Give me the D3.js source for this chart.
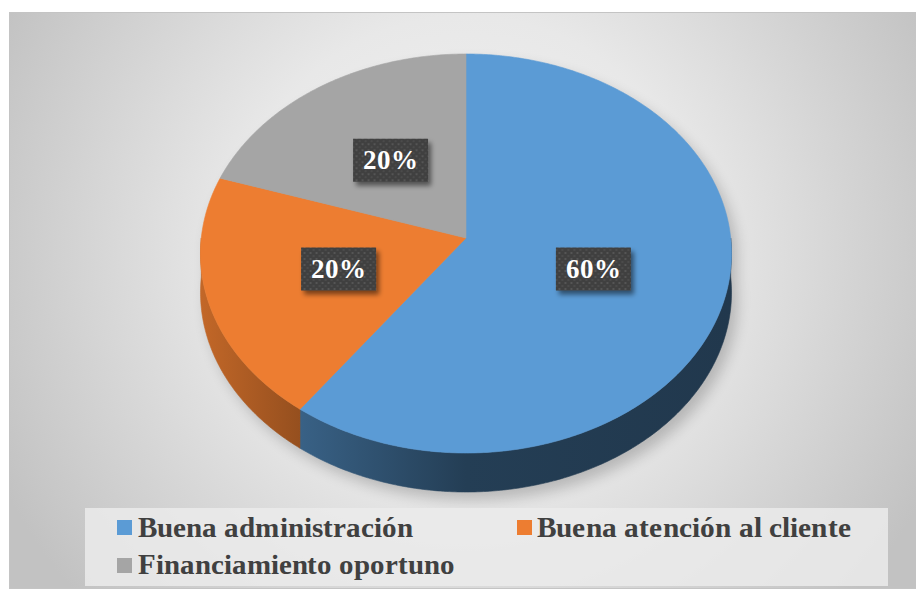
<!DOCTYPE html>
<html><head><meta charset="utf-8">
<script src="https://cdn.jsdelivr.net/npm/d3@7"></script>
<style>
@font-face { font-family: "ChartSerif"; font-weight: bold; src: local("Liberation Serif Bold"), local("LiberationSerif-Bold"), local("Times New Roman Bold"); }
@font-face { font-family: "ChartSerif"; font-weight: normal; src: local("Liberation Serif"), local("LiberationSerif"); }
</style>
</head><body style="margin:0">
<svg id="chart" width="916" height="589"></svg>
<script>
// ---- data ----
const categories = ["Buena administración", "Buena atención al cliente", "Financiamiento oportuno"];
const values = [60, 20, 20];
const labels = ["60%", "20%", "20%"];
const colors = ["#5b9bd5", "#ed7d31", "#a5a5a5"];

const W = 916, H = 589;
const FONT = 'ChartSerif, "Liberation Serif", "Times New Roman", serif';
const svg = d3.select("#chart");
const defs = svg.append("defs");

// background gradient
const bg = defs.append("radialGradient").attr("id","bg")
  .attr("gradientUnits","userSpaceOnUse").attr("cx",466).attr("cy",250).attr("r",520);
bg.append("stop").attr("offset","0").attr("stop-color","#f4f4f4");
bg.append("stop").attr("offset","0.45").attr("stop-color","#e8e8e8");
bg.append("stop").attr("offset","1").attr("stop-color","#c2c2c2");

svg.append("rect").attr("x",9.5).attr("y",12.5).attr("width",W).attr("height",576)
  .attr("fill","url(#bg)").attr("stroke","#c4c4c4").attr("stroke-width",1);

// geometry: perspective-projected circle
const cx = 466, cy = 238, kx = 264.7, ky = 198.3, persp = 0.0777, depth = 39;
const sx = d3.scaleLinear().domain([-1,1]).range([cx-kx, cx+kx]);
const sy = d3.scaleLinear().domain([-1,1]).range([cy-ky, cy+ky]);
function proj(a, r=1, dy=0) {
  const X = r*Math.sin(a), w = -r*Math.cos(a);
  const d = 1 - persp*w;
  return [sx(X/d), sy(w/d) + dy];
}
function arcPts(a0, a1, dy=0) {
  const n = Math.max(2, Math.ceil(Math.abs(a1-a0)/0.01));
  return d3.range(n+1).map(i => proj(a0 + (a1-a0)*i/n, 1, dy));
}

const pie = d3.pie().sort(null).value(d => d)(values);

// filters
const blur = defs.append("filter").attr("id","pshadow").attr("x","-20%").attr("y","-20%").attr("width","140%").attr("height","140%");
blur.append("feGaussianBlur").attr("stdDeviation",7);
const lsh = defs.append("filter").attr("id","lshadow").attr("x","-30%").attr("y","-30%").attr("width","160%").attr("height","160%");
lsh.append("feGaussianBlur").attr("in","SourceAlpha").attr("stdDeviation",2.5).attr("result","b");
lsh.append("feOffset").attr("dx",3).attr("dy",4).attr("result","o");
lsh.append("feComponentTransfer").attr("in","o").attr("result","s")
  .append("feFuncA").attr("type","linear").attr("slope",0.5);
const lm = lsh.append("feMerge");
lm.append("feMergeNode").attr("in","s");
lm.append("feMergeNode").attr("in","SourceGraphic");

// pie shadow
const shadowPts = arcPts(Math.PI/2, 3*Math.PI/2, depth).concat(arcPts(-Math.PI/2, Math.PI/2, 0));
svg.append("path").attr("d", d3.line()(shadowPts)+"Z")
  .attr("transform","translate(6,8)")
  .attr("fill","#000").attr("opacity",0.2).attr("filter","url(#pshadow)");

// side gradients
const shade = [[cx-kx,0.82],[305,0.62],[cx,0.40],[cx+kx,0.36]];
pie.forEach((p,i) => {
  const g = defs.append("linearGradient").attr("id","side"+i)
    .attr("gradientUnits","userSpaceOnUse").attr("x1",cx-kx).attr("x2",cx+kx).attr("y1",0).attr("y2",0);
  const c = d3.rgb(colors[i]);
  shade.forEach(([x,f]) => {
    g.append("stop").attr("offset",(x-(cx-kx))/(2*kx))
      .attr("stop-color", d3.rgb(c.r*f, c.g*f, c.b*f).formatHex());
  });
});

// side walls (front half)
pie.forEach((p,i) => {
  const a0 = Math.max(p.startAngle, Math.PI/2), a1 = Math.min(p.endAngle, 3*Math.PI/2);
  if (a1 <= a0) return;
  const top = arcPts(a0, a1, 0), bot = arcPts(a1, a0, depth);
  svg.append("path").attr("d", d3.line()(top.concat(bot))+"Z")
    .attr("fill","url(#side"+i+")").attr("stroke","url(#side"+i+")").attr("stroke-width",0.6);
});

// top faces
pie.forEach((p,i) => {
  const pts = [[cx,cy]].concat(arcPts(p.startAngle, p.endAngle, 0));
  svg.append("path").attr("d", d3.line()(pts)+"Z")
    .attr("fill", colors[i]).attr("stroke", colors[i]).attr("stroke-width",0.6);
});

// label pattern
const pat = defs.append("pattern").attr("id","dots").attr("patternUnits","userSpaceOnUse")
  .attr("width",6).attr("height",6);
pat.append("rect").attr("width",6).attr("height",6).attr("fill","#3f3f3f");
pat.append("rect").attr("x",1).attr("y",1).attr("width",2).attr("height",2).attr("fill","#555");
pat.append("rect").attr("x",4).attr("y",4).attr("width",2).attr("height",2).attr("fill","#4c4c4c");

// labels
pie.forEach((p,i) => {
  const mid = (p.startAngle + p.endAngle)/2;
  const [x,y] = proj(mid, 0.5);
  const g = svg.append("g").attr("transform",`translate(${x},${y})`);
  g.append("rect").attr("x",-37.5).attr("y",-21.5).attr("width",75).attr("height",43)
    .attr("fill","url(#dots)").attr("filter","url(#lshadow)");
  g.append("text").attr("text-anchor","middle").attr("y",9)
    .attr("font-family",FONT).style("font-family",FONT)
    .attr("font-weight","bold").attr("font-size",27)
    .attr("fill","#fff").text(labels[i]);
});

// legend
svg.append("rect").attr("x",85).attr("y",508).attr("width",803).attr("height",78).attr("fill","#ebebeb").attr("opacity",0.85);
const legPos = [[117,520,138,537,275],[517,520,537,537,314],[117,558,138,574,317]];
categories.forEach((c,i) => {
  const [bx,by,tx,ty,tw] = legPos[i];
  svg.append("rect").attr("x",bx).attr("y",by).attr("width",15).attr("height",15).attr("fill",colors[i]);
  svg.append("text").attr("x",tx).attr("y",ty)
    .attr("font-family",FONT).style("font-family",FONT)
    .attr("font-weight","bold").attr("font-size",29)
    .attr("fill","#404040")
    .attr("textLength",tw).attr("lengthAdjust","spacingAndGlyphs").text(c);
});
</script>
</body></html>
